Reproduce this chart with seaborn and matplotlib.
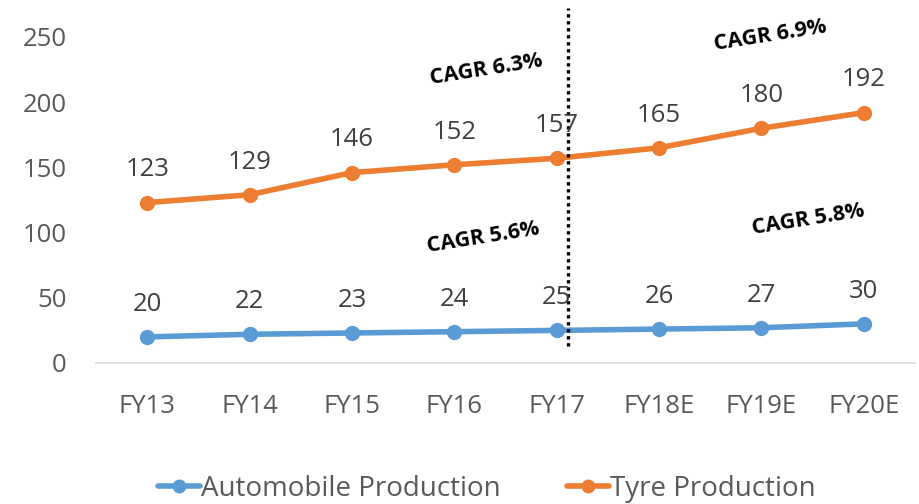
import matplotlib
matplotlib.use("Agg")
import matplotlib.pyplot as plt
import seaborn as sns
import pandas as pd
from matplotlib.lines import Line2D

years = ["FY13", "FY14", "FY15", "FY16", "FY17", "FY18E", "FY19E", "FY20E"]
automobile = [20, 22, 23, 24, 25, 26, 27, 30]
tyre = [123, 129, 146, 152, 157, 165, 180, 192]
series_names = ["Automobile Production", "Tyre Production"]
cagr_labels = ["CAGR 6.3%", "CAGR 6.9%", "CAGR 5.6%", "CAGR 5.8%"]
cagr_pos = [(3.31, 225), (6.09, 251), (3.28, 96), (6.46, 110)]
yticks = [0, 50, 100, 150, 200, 250]

sns.set_theme(style="white")
plt.rcParams['font.family'] = ['Open Sans', 'DejaVu Sans']

df = pd.DataFrame({
    "Year": years * 2,
    "Value": automobile + tyre,
    "Series": [series_names[0]] * len(years) + [series_names[1]] * len(years),
})
df["x"] = list(range(len(years))) * 2

colors = {series_names[0]: "#5B9BD5", series_names[1]: "#ED7D31"}

fig = plt.figure(figsize=(9.19, 5.04), dpi=100)
ax = fig.add_axes([0.1045, 0.2798, 0.891, 0.6468])

sns.lineplot(data=df, x="x", y="Value", hue="Series", palette=colors, ax=ax,
             marker="o", markersize=11, markeredgewidth=0, linewidth=4,
             legend=False)

ax.set_xlim(-0.5, len(years) - 0.5)
ax.set_ylim(0, 250)
ax.set_xticks(range(len(years)))
ax.set_xticklabels(years)
ax.set_yticks(yticks)
ax.set_xlabel("")
ax.set_ylabel("")
ax.tick_params(axis="both", length=0, labelsize=18.5, colors="#595959")
ax.tick_params(axis="y", pad=21)
ax.tick_params(axis="x", pad=22)
for s in ["top", "right", "left"]:
    ax.spines[s].set_visible(False)
ax.spines["bottom"].set_color("#D9D9D9")
ax.spines["bottom"].set_linewidth(1.2)

for vals in (automobile, tyre):
    for i, v in enumerate(vals):
        ax.annotate(str(v), (i, v), xytext=(0, 14.5), textcoords="offset points",
                    ha="center", va="bottom", fontsize=18.5, color="#404040")

ax.plot([4.11, 4.11], [13, 272], linestyle=(0, (1, 1.1)), color="black",
        linewidth=2.4, clip_on=False)

for lab, (x, y) in zip(cagr_labels, cagr_pos):
    ax.text(x, y, lab, rotation=9, ha="center", va="center", fontsize=15.5,
            fontweight="bold", color="black", rotation_mode="anchor")

handles = [Line2D([], [], color=colors[n], marker="o", markersize=10,
                  linewidth=4, markeredgewidth=0) for n in series_names]
leg = fig.legend(handles, series_names, loc="center", bbox_to_anchor=(0.53, 0.03),
                 ncol=2, frameon=False, fontsize=20, handlelength=1.5,
                 handletextpad=0.05, columnspacing=2.4)
for t in leg.get_texts():
    t.set_color("#595959")

fig.savefig("out.png", dpi=100)
